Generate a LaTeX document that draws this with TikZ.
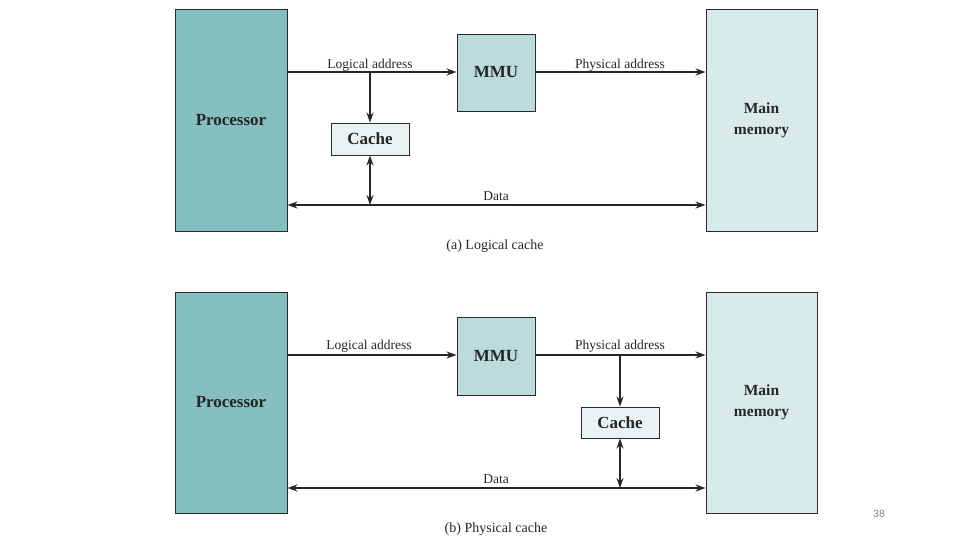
\documentclass[tikz,border=0pt]{standalone}
\usepackage{fontspec}
\setmainfont{Liberation Serif}
\newfontfamily\pagefont{Liberation Sans}
\usetikzlibrary{arrows.meta}
\definecolor{proc}{HTML}{86BFBF}
\definecolor{mmuc}{HTML}{BCDCDC}
\definecolor{memc}{HTML}{D9EAEA}
\definecolor{cachec}{HTML}{EAF3F3}
\definecolor{edge}{HTML}{2A2A2A}
\tikzset{
  box/.style={draw=edge, line width=0.9pt, inner sep=0pt, font=\bfseries\fontsize{17}{18}\selectfont, text=black!85, align=center},
  memtxt/.style={font=\bfseries\fontsize{15.5}{21}\selectfont},
  conn/.style={line width=1.8pt, draw=black!85, -{Stealth[length=10pt,width=7pt]}},
  bconn/.style={line width=1.8pt, draw=black!85, {Stealth[length=10pt,width=7pt]}-{Stealth[length=10pt,width=7pt]}},
  lbl/.style={font=\fontsize{13.5}{14}\selectfont, text=black!85, inner sep=0pt},
  captxt/.style={font=\fontsize{14}{15}\selectfont, text=black!85, inner sep=0pt}
}
\begin{document}
\begin{tikzpicture}[x=1pt,y=-1pt]
\useasboundingbox (0,0) rectangle (960,540);
% ---------- (a) ----------
\node[box, fill=proc, minimum width=112pt, minimum height=222pt] (procA) at (231,120) {Processor};
\node[box, fill=mmuc, minimum width=78pt, minimum height=77pt] (mmuA) at (496,72.5) {MMU};
\node[box, memtxt, fill=memc, minimum width=111pt, minimum height=222pt] (memA) at (761.5,120) {Main\\memory};
\node[box, fill=cachec, minimum width=78pt, minimum height=32pt] (cacheA) at (370,139) {Cache};
\coordinate (laA) at (370,72);
\coordinate (dA) at (370,205);
\draw[conn] (procA.east |- laA) -- (mmuA.west |- laA);
\draw[conn] (laA) -- (cacheA.north);
\draw[conn] (mmuA.east |- laA) -- (memA.west |- laA);
\draw[bconn] (procA.east |- dA) -- (memA.west |- dA);
\draw[bconn] (cacheA.south) -- (dA);
\node[lbl] (laLblA) at (370,65) {Logical address};
\node[lbl] (paLblA) at (620,65) {Physical address};
\node[lbl] (dLblA) at (496,196) {Data};
\node[captxt] (capA) at (495,246.5) {(a) Logical cache};
% ---------- (b) ----------
\node[box, fill=proc, minimum width=112pt, minimum height=221pt] (procB) at (231,402.5) {Processor};
\node[box, fill=mmuc, minimum width=78pt, minimum height=78pt] (mmuB) at (496,356) {MMU};
\node[box, memtxt, fill=memc, minimum width=111pt, minimum height=221pt] (memB) at (761.5,402.5) {Main\\memory};
\node[box, fill=cachec, minimum width=78pt, minimum height=31pt] (cacheB) at (620,422.5) {Cache};
\coordinate (laB) at (370,355);
\coordinate (paB) at (620,355);
\coordinate (dB) at (620,488);
\draw[conn] (procB.east |- laB) -- (mmuB.west |- laB);
\draw[conn] (mmuB.east |- paB) -- (memB.west |- paB);
\draw[conn] (paB) -- (cacheB.north);
\draw[bconn] (procB.east |- dB) -- (memB.west |- dB);
\draw[bconn] (cacheB.south) -- (dB);
\node[lbl] (laLblB) at (369,346) {Logical address};
\node[lbl] (paLblB) at (620,346) {Physical address};
\node[lbl] (dLblB) at (496,479) {Data};
\node[captxt] (capB) at (496,529) {(b) Physical cache};
\node[font=\pagefont\fontsize{10.5}{11}\selectfont, text=black!50, inner sep=0pt] (pg) at (879,514) {38};
\end{tikzpicture}
\end{document}
